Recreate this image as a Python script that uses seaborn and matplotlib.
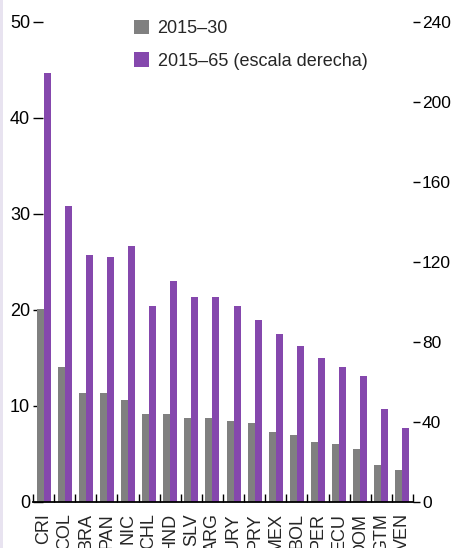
import pandas as pd
import matplotlib
matplotlib.use('Agg')
import matplotlib.pyplot as plt
import seaborn as sns
from matplotlib.patches import Patch, Rectangle
from matplotlib.ticker import FixedLocator

# Data
paises = ['CRI', 'COL', 'BRA', 'PAN', 'NIC', 'CHL', 'HND', 'SLV', 'ARG',
          'URY', 'PRY', 'MEX', 'BOL', 'PER', 'ECU', 'DOM', 'GTM', 'VEN']
v2030 = [20.1, 14.1, 11.4, 11.4, 10.6, 9.2, 9.2, 8.8, 8.8,
         8.4, 8.2, 7.3, 7.0, 6.3, 6.0, 5.5, 3.9, 3.3]
v2065 = [214.5, 148, 123.5, 122.5, 128, 98, 110.5, 102.5, 102.5,
         98, 91, 84, 78, 72, 67.5, 63, 46.5, 37]
series = ['2015–30', '2015–65 (escala derecha)']
colores = ['#808080', '#8548AD']

n = len(paises)
off = 0.165
df_a = pd.DataFrame({'pos': [i - off for i in range(n)], 'valor': v2030})
df_b = pd.DataFrame({'pos': [i + off for i in range(n)], 'valor': v2065})

sns.set_style('white')
plt.rcParams['font.family'] = ['Liberation Sans', 'DejaVu Sans']

fig = plt.figure(figsize=(4.53, 5.48), dpi=100)
ax = fig.add_axes([33 / 453, 1 - 502 / 548, 380 / 453, 480 / 548])
ax2 = ax.twinx()
ax.set_zorder(2)
ax.patch.set_visible(False)

sns.barplot(data=df_a, x='pos', y='valor', native_scale=True, width=0.33,
            color=colores[0], saturation=1, linewidth=0, ax=ax)
sns.barplot(data=df_b, x='pos', y='valor', native_scale=True, width=0.33,
            color=colores[1], saturation=1, linewidth=0, ax=ax2)

for a in (ax, ax2):
    for s in a.spines.values():
        s.set_visible(False)
    a.set_xlim(-0.5, n - 0.5)
    a.set_xlabel('')
    a.set_ylabel('')

ax.spines['bottom'].set_visible(True)
ax.spines['bottom'].set_color('black')
ax.spines['bottom'].set_linewidth(1.3)

ax.set_ylim(0, 50)
ax.set_yticks([0, 10, 20, 30, 40, 50])
ax2.set_ylim(0, 240)
ax2.set_yticks([0, 40, 80, 120, 160, 200, 240])

ax.set_xticks(range(n))
ax.set_xticklabels(paises)
ax.tick_params(axis='y', direction='in', length=7, width=1, pad=2,
               labelsize=13, colors='black')
ax2.tick_params(axis='y', direction='out', length=5, width=1, pad=1.5,
                labelsize=12.5, colors='black')
ax.tick_params(axis='x', which='major', length=0, pad=8, labelsize=13,
               labelrotation=90)
ax.xaxis.set_minor_locator(FixedLocator([i - 0.5 for i in range(n + 1)]))
ax.tick_params(axis='x', which='minor', direction='in', length=6, width=1,
               color='black', bottom=True)
ax2.tick_params(axis='x', which='both', length=0, labelbottom=False)

handles = [Patch(facecolor=c, edgecolor='none') for c in colores]
ax.legend(handles, series, loc='upper left', bbox_to_anchor=(0.266, 1.005),
          frameon=False, fontsize=13, handlelength=0.85, handleheight=0.85,
          handletextpad=0.45, labelspacing=0.85, borderaxespad=0, borderpad=0)

fig.patches.append(Rectangle((0, 0), 3 / 453, 1, transform=fig.transFigure,
                             facecolor='#e8e3f0', edgecolor='none'))

fig.savefig('out.png', dpi=100)
